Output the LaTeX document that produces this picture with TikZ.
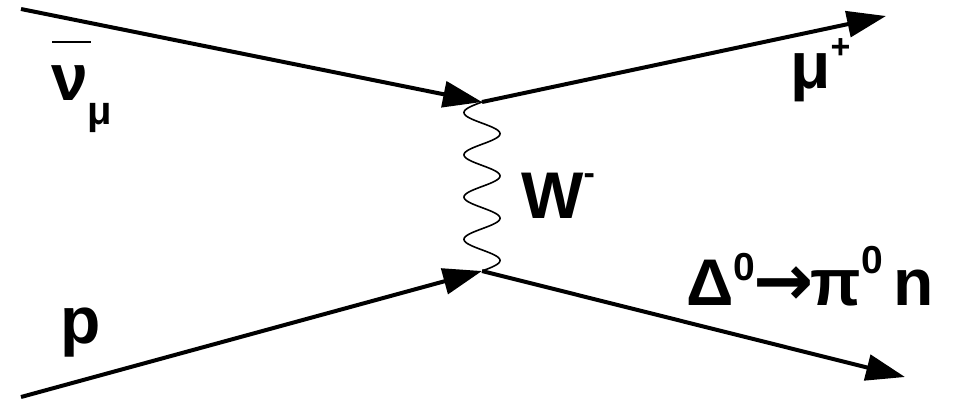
\documentclass[tikz,border=0pt]{standalone}
\usepackage{fontspec}
\setmainfont{Liberation Sans}
\newfontfamily\arrowfont{DejaVu Sans}
\usetikzlibrary{arrows.meta,calc}
\newcommand\fsz[1]{\fontsize{#1}{#1}\selectfont}
\tikzset{
  fermion/.style={line width=4pt,-{Triangle[length=39pt,width=26pt]}},
  boson/.style={line width=1.6pt},
  lbl/.style={anchor=base west,inner sep=0pt,font=\bfseries\fsz{66}}
}
\begin{document}
\begin{tikzpicture}[x=1pt,y=1pt]
\useasboundingbox (0,0) rectangle (955,-400);
\coordinate (a) at (21,-9);
\coordinate (c) at (21,-397);
\coordinate (v1) at (482,-102);
\coordinate (v2) at (482,-271);
\coordinate (b) at (886,-16);
\coordinate (d) at (905,-377);
\draw[fermion] (a) -- (v1);
\draw[fermion] (c) -- (v2);
\draw[fermion] (v1) -- (b);
\draw[fermion] (v2) -- (d);
\draw[boson] let \p1=(v1), \p2=(v2) in
  plot[variable=\t,domain=0:1,samples=240,smooth] ({\x1-18*sin(1440*\t)},{\y1+(\y2-\y1)*\t});
% labels
\node[lbl] (nubar) at (51,-100) {ν\raisebox{-24pt}{\fsz{40}μ}};
\draw[line width=2pt] (52,-42) -- (91,-42);
\node[lbl] (mu) at (790,-88) {μ\raisebox{30pt}{\fsz{34}+}};
\node[lbl] (w) at (521,-218) {W\raisebox{34pt}{\fsz{34}-}};
\node[lbl] (p) at (60,-343) {p};
\node[lbl] (delta) at (686,-305) {Δ\raisebox{25pt}{\fsz{39}0}\kern-2pt{\arrowfont\fsz{72}→}\kern-3ptπ\raisebox{32pt}{\fsz{39}0}\kern-8pt{} n};
\end{tikzpicture}
\end{document}
